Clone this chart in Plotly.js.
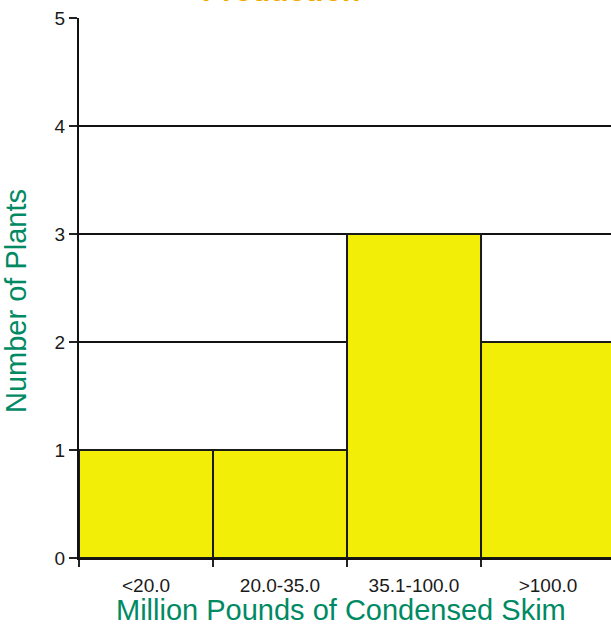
<!DOCTYPE html>
<html>
<head>
<meta charset="utf-8">
<script src="https://cdn.plot.ly/plotly-3.0.1.min.js"></script>
<style>html,body{margin:0;padding:0;background:#fff;}#chart{width:611px;height:626px;}</style>
</head>
<body>
<div id="chart"></div>
<script>
const categories = ["<20.0", "20.0-35.0", "35.1-100.0", ">100.0"];
const plantCounts = [1, 1, 3, 2];
const yTicks = [0, 1, 2, 3, 4, 5];
const chartTitle = "Production";
const xTitle = "Million Pounds of Condensed Skim";
const yTitle = "Number of Plants";

const trace = {
  type: "bar",
  x: categories,
  y: plantCounts,
  marker: { color: "#F3EE08", line: { color: "#1a1a1a", width: 2 } },
  hoverinfo: "skip"
};

const L = 79, T = 18, PW = 532, PH = 540;
const px = v => (v - L) / PW;
const py = v => (T + PH - v) / PH;
const fam = "Liberation Sans, Arial, sans-serif";

const layout = {
  width: 611,
  height: 626,
  margin: { l: L, r: 0, t: T, b: 626 - T - PH },
  paper_bgcolor: "#ffffff",
  plot_bgcolor: "#ffffff",
  bargap: 0,
  showlegend: false,
  font: { family: fam, color: "#222" },
  xaxis: {
    type: "category",
    range: [-0.5, 3.47],
    tickson: "boundaries",
    ticks: "outside",
    ticklen: 7,
    tickwidth: 1.5,
    tickcolor: "#222",
    showgrid: false,
    showline: true,
    linecolor: "#111",
    linewidth: 2,
    ticklabelstandoff: 9,
    tickfont: { size: 19, color: "#1a1a1a" }
  },
  yaxis: {
    range: [0, 5],
    tickvals: yTicks,
    ticks: "outside",
    ticklen: 8,
    tickwidth: 1.5,
    tickcolor: "#222",
    showline: true,
    linecolor: "#111",
    linewidth: 2,
    showgrid: true,
    gridcolor: "#111",
    gridwidth: 2,
    zeroline: false,
    ticklabelstandoff: 0,
    tickfont: { size: 19, color: "#1a1a1a" }
  },
  annotations: [
    {
      text: "<b>" + chartTitle + "</b>",
      xref: "paper", yref: "paper",
      x: px(281), y: py(-10),
      xanchor: "center", yanchor: "middle",
      showarrow: false,
      font: { size: 30, color: "#F2A900", family: fam }
    },
    {
      text: xTitle,
      xref: "paper", yref: "paper",
      x: px(341), y: py(610),
      xanchor: "center", yanchor: "middle",
      showarrow: false,
      font: { size: 29, color: "#008A64", family: fam }
    },
    {
      text: yTitle,
      xref: "paper", yref: "paper",
      x: px(16), y: py(301),
      xanchor: "center", yanchor: "middle",
      textangle: -90,
      showarrow: false,
      font: { size: 29, color: "#008A64", family: fam }
    }
  ]
};

Plotly.newPlot("chart", [trace], layout, { displayModeBar: false, staticPlot: true });
</script>
</body>
</html>
